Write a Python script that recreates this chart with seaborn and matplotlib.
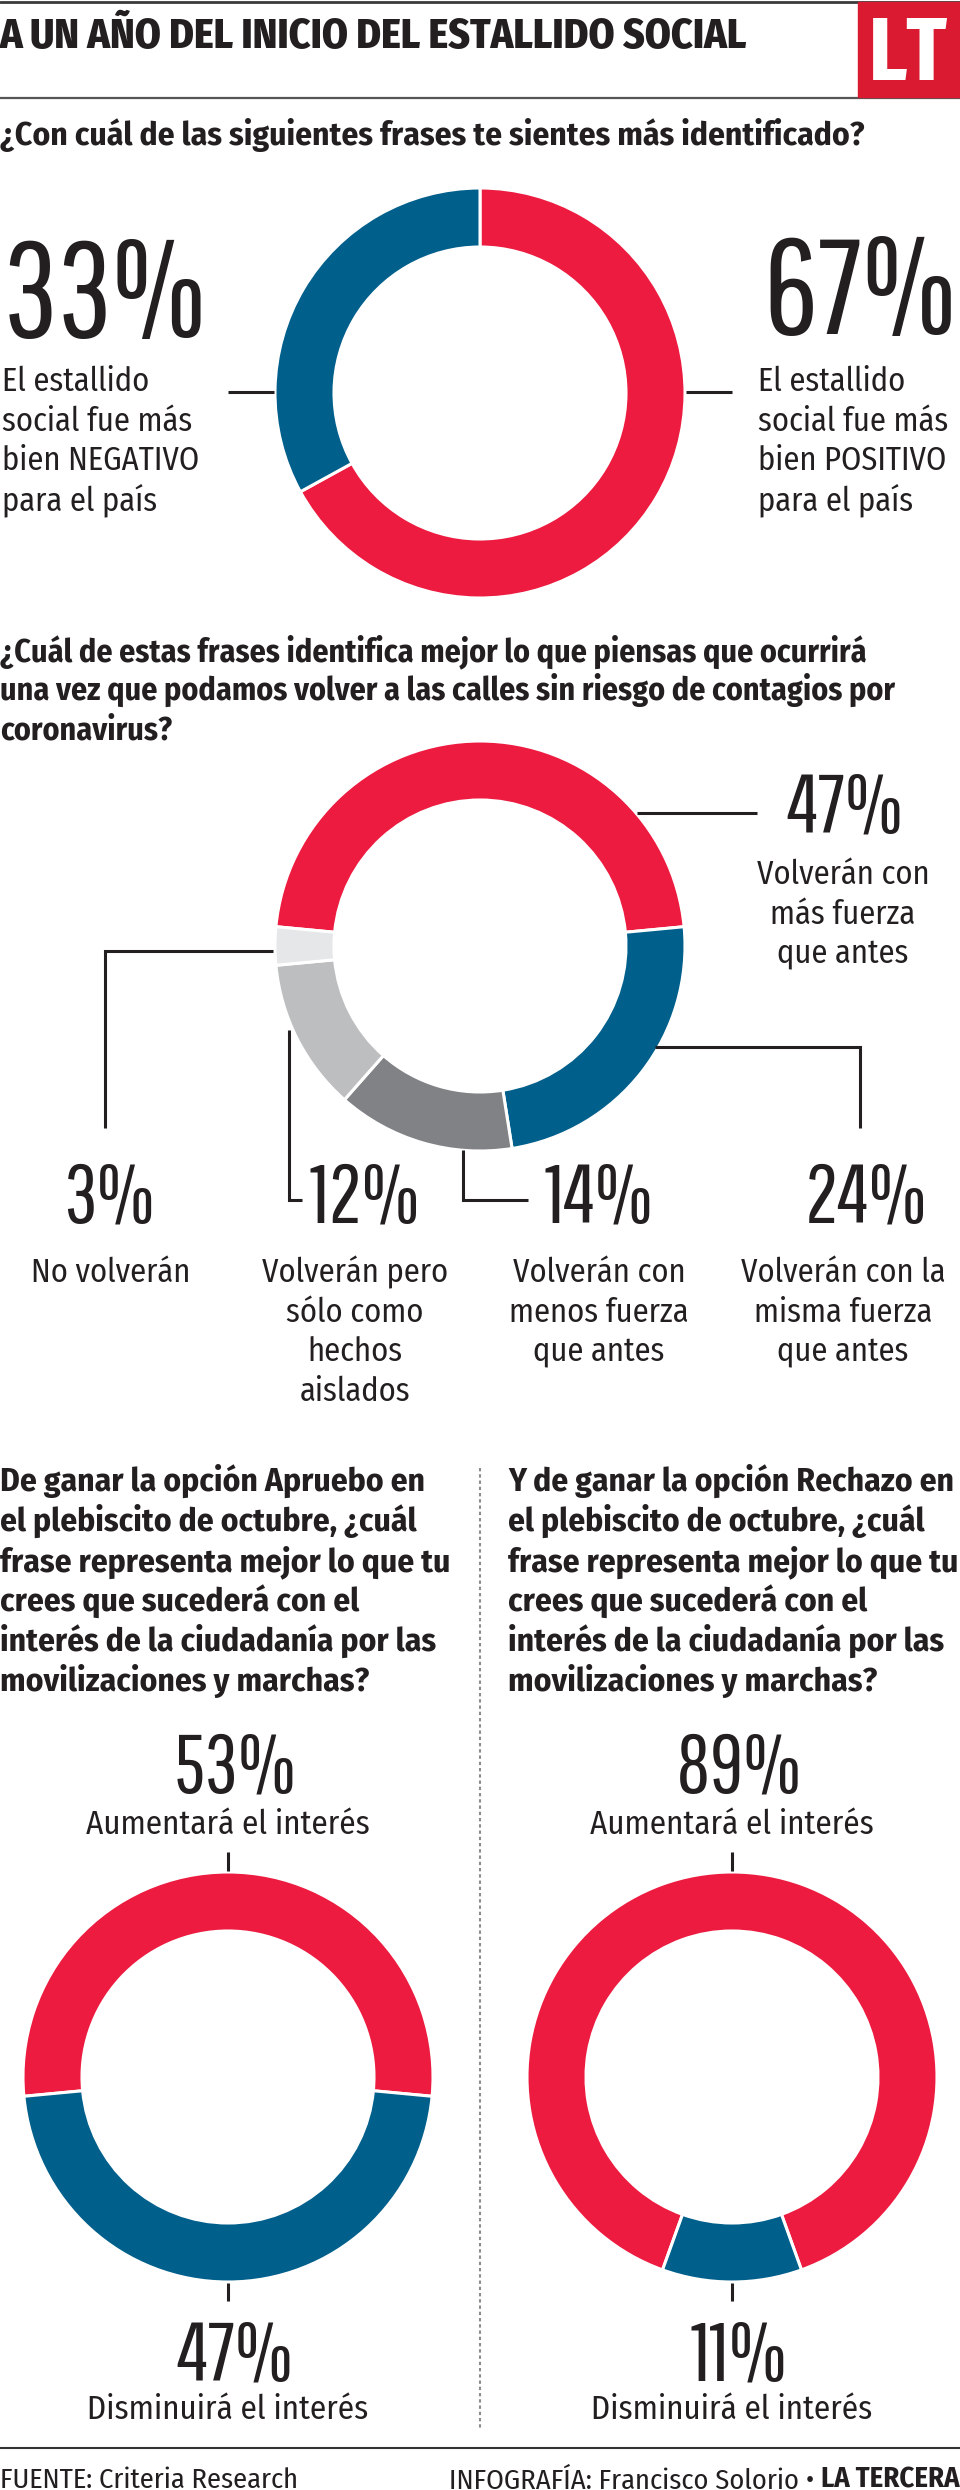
import matplotlib
matplotlib.use("Agg")
import matplotlib.pyplot as plt
import matplotlib.patches as mpatches
import seaborn as sns

# ── Data ──────────────────────────────────────────────────────
title = "A UN AÑO DEL INICIO DEL ESTALLIDO SOCIAL"

q1_text = "¿Con cuál de las siguientes frases te sientes más identificado?"
q1_values = [67, 33]
q1_labels = ["El estallido\nsocial fue más\nbien POSITIVO\npara el país",
             "El estallido\nsocial fue más\nbien NEGATIVO\npara el país"]

q2_text = ("¿Cuál de estas frases identifica mejor lo que piensas que ocurrirá\n"
           "una vez que podamos volver a las calles sin riesgo de contagios por\n"
           "coronavirus?")
q2_values = [47, 24, 14, 12, 3]
q2_labels = ["Volverán con\nmás fuerza\nque antes",
             "Volverán con la\nmisma fuerza\nque antes",
             "Volverán con\nmenos fuerza\nque antes",
             "Volverán pero\nsólo como\nhechos\naislados",
             "No volverán"]

q3a_text = ("De ganar la opción Apruebo en\nel plebiscito de octubre, ¿cuál\n"
            "frase representa mejor lo que tu\ncrees que sucederá con el\n"
            "interés de la ciudadanía por las\nmovilizaciones y marchas?")
q3b_text = ("Y de ganar la opción Rechazo en\nel plebiscito de octubre, ¿cuál\n"
            "frase representa mejor lo que tu\ncrees que sucederá con el\n"
            "interés de la ciudadanía por las\nmovilizaciones y marchas?")
q3_options = ["Aumentará el interés", "Disminuirá el interés"]
q3_apruebo = [53, 47]
q3_rechazo = [89, 11]

source = "FUENTE: Criteria Research"
credit = "INFOGRAFÍA: Francisco Solorio • "
brand = "LA TERCERA"

# ── Style ─────────────────────────────────────────────────────
RED = "#ED1B3F"
BLUE = "#005F8B"
GRAY_D = "#808285"
GRAY_M = "#BCBEC0"
GRAY_L = "#E6E7E8"
LT_RED = "#D91A30"
INK = "#231F20"

sns.set_theme(style="white")
BODY = ["Fira Sans Condensed", "Roboto Condensed", "DejaVu Sans"]
NUM = ["Pathway Gothic One", "Saira ExtraCondensed", "Roboto Condensed", "DejaVu Sans"]
HEAD = ["Fira Sans Extra Condensed", "Roboto Condensed", "DejaVu Sans"]
plt.rcParams["font.family"] = BODY

W, H = 960, 2490
R, RW = 205, 59
BIG, MID = 135, 83          # number sizes in px
LAB = 32.5                  # body label size in px

def Y(y):
    return H - y


def px(v):
    return v * 0.72


fig = plt.figure(figsize=(W / 100, H / 100), dpi=100, facecolor="white")
ax = fig.add_axes([0, 0, 1, 1])


def text_lines(x, y, s, size, step, weight="normal", ha="left", family=None, color=INK):
    for i, line in enumerate(s.split("\n")):
        ax.text(x, Y(y + i * step), line, fontsize=px(size), fontweight=weight,
                ha=ha, va="baseline", color=color, family=family or BODY)


def number(x, y, v, size, ha="center"):
    ax.text(x, Y(y), f"{v}%", fontsize=px(size), family=NUM,
            color=INK, ha=ha, va="baseline")


def donut(cx, cy, values, colors, start):
    ax.pie(values, colors=colors, startangle=start, counterclock=False,
           center=(cx, Y(cy)), radius=R,
           wedgeprops=dict(width=RW, edgecolor="white", linewidth=2.2))


def leader(xs, ys):
    ax.plot(xs, [Y(v) for v in ys], color=INK, lw=2.2,
            solid_capstyle="butt", solid_joinstyle="miter")


# ── Header ────────────────────────────────────────────────────
ax.plot([0, W], [Y(1.5), Y(1.5)], color="#3a3a3a", lw=2)
ax.plot([0, W], [Y(97.5), Y(97.5)], color="#555555", lw=1.6)
ax.add_patch(mpatches.Rectangle((858, Y(97)), W - 858, 95, color=LT_RED, zorder=3))
ax.text(908, Y(80), "LT", fontsize=px(90), fontweight="bold", color="white",
        family=HEAD, ha="center", va="baseline", zorder=4)
ax.text(0, Y(48), title, fontsize=px(41.5), fontweight=800, color=INK,
        ha="left", va="baseline")

# ── Section 1 ─────────────────────────────────────────────────
text_lines(0, 145, q1_text, 33.5, 40, weight="bold")
donut(480, 393, q1_values, [RED, BLUE], 90)
leader([228, 274], [392, 392])
leader([686, 732], [392, 392])
number(763, 334, q1_values[0], BIG, ha="left")
number(3, 337, q1_values[1], BIG, ha="left")
text_lines(758, 391, q1_labels[0], LAB, 39.7)
text_lines(2, 391, q1_labels[1], LAB, 39.7)

# ── Section 2 ─────────────────────────────────────────────────
text_lines(0, 661, q2_text, 32, 39, weight="bold")
start2 = 90 + q2_values[0] * 3.6 / 2
donut(480, 946, q2_values, [RED, BLUE, GRAY_D, GRAY_M, GRAY_L], start2)

leader([637, 757], [813, 813])
leader([655, 860, 860], [1047, 1047, 1128])
leader([463, 463, 528], [1150, 1200, 1200])
leader([289, 289, 302], [1030, 1200, 1200])
leader([273, 105, 105], [951, 951, 1128])

number(845, 833, q2_values[0], MID)
text_lines(843, 884, q2_labels[0], LAB, 39.5, ha="center")

for v, cx in zip(q2_values[1:], [866, 599, 365, 109]):
    number(cx, 1223, v, MID)
for lab, cx in zip(q2_labels[1:], [843, 599, 355, 111]):
    text_lines(cx, 1282, lab, LAB, 39.7, ha="center")

# ── Section 3 ─────────────────────────────────────────────────
text_lines(0, 1491, q3a_text, 33.5, 40, weight="bold")
text_lines(508, 1491, q3b_text, 33.5, 40, weight="bold")
ax.plot([480, 480], [Y(1468), Y(2428)], color="#8c8c8c", lw=1.5,
        linestyle=(0, (1.6, 1.4)))

start3a = 90 + q3_apruebo[0] * 3.6 / 2
start3b = 90 + q3_rechazo[0] * 3.6 / 2
for cx, vals, st in [(228, q3_apruebo, start3a), (732, q3_rechazo, start3b)]:
    donut(cx, 2077, vals, [RED, BLUE], st)
    leader([cx, cx], [1852, 1871])
    leader([cx, cx], [2283, 2301])
    number(cx + 7, 1793, vals[0], MID)
    ax.text(cx, Y(1834), q3_options[0], fontsize=px(LAB + 0.5), color=INK,
            ha="center", va="baseline")
    number(cx + 7, 2380, vals[1], MID)
    ax.text(cx, Y(2419), q3_options[1], fontsize=px(LAB + 0.5), color=INK,
            ha="center", va="baseline")

# ── Footer ────────────────────────────────────────────────────
ax.plot([0, W], [Y(2448), Y(2448)], color="#333333", lw=1.5)
ax.text(0, Y(2488), source, fontsize=px(28.5), color=INK, ha="left", va="baseline")
b = ax.text(W, Y(2488), brand, fontsize=px(28.5), fontweight="bold", color=INK,
            ha="right", va="baseline")
ax.annotate(credit, xy=(0, 0), xycoords=b, fontsize=px(28.5), color=INK,
            ha="right", va="bottom")

ax.set_xlim(0, W)
ax.set_ylim(0, H)
ax.set_aspect("equal")
ax.axis("off")

fig.savefig("out.png", dpi=100, facecolor="white")
